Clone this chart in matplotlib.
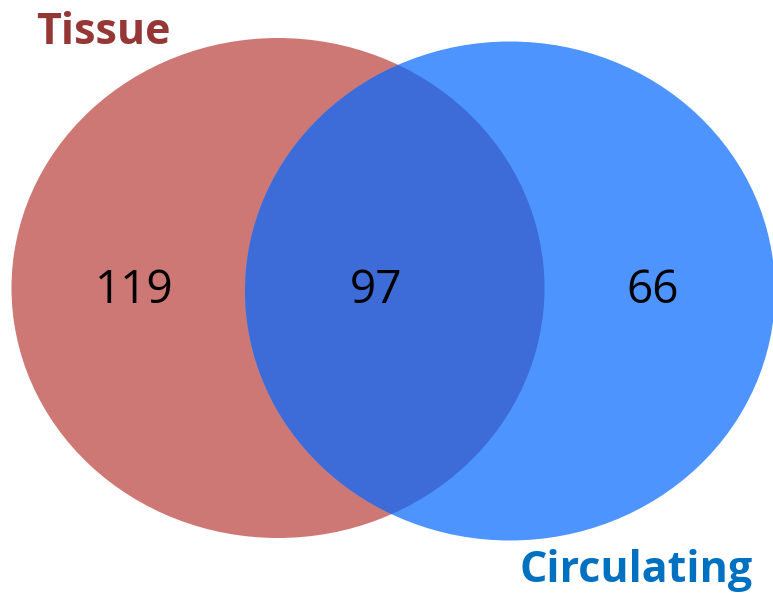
import matplotlib
matplotlib.use("Agg")
import matplotlib.pyplot as plt
from matplotlib.patches import Ellipse

# set sizes
labels = ["Tissue", "Circulating"]
counts = [119, 97, 66]   # tissue only, shared, circulating only

red = "#CD7874"
blue = "#4D94FF"
shared = "#3D6CD8"

fig = plt.figure(figsize=(7.73, 5.97), dpi=100)
ax = fig.add_axes([0, 0, 1, 1])
ax.set_xlim(0, 773)
ax.set_ylim(597, 0)
ax.axis("off")

left = Ellipse((278, 288), 533, 500, facecolor=red, edgecolor="none")
right = Ellipse((510, 291), 530, 499, facecolor=blue, edgecolor="none")
ax.add_patch(left)
ax.add_patch(right)

# overlap: right ellipse clipped to the left one
mid = Ellipse((510, 291), 530, 499, facecolor=shared, edgecolor="none")
ax.add_patch(mid)
mid.set_clip_path(left)

font = "Open Sans"
ax.text(134, 291, str(counts[0]), ha="center", va="center", fontsize=33, family=font)
ax.text(376, 291, str(counts[1]), ha="center", va="center", fontsize=33, family=font)
ax.text(653, 291, str(counts[2]), ha="center", va="center", fontsize=33, family=font)

ax.text(103, 32, labels[0], ha="center", va="center", fontsize=31, fontweight="bold",
        color="#953735", family=font)
ax.text(636, 571, labels[1], ha="center", va="center", fontsize=31, fontweight="bold",
        color="#0070C0", family=font)

fig.savefig("out.png", dpi=100)
